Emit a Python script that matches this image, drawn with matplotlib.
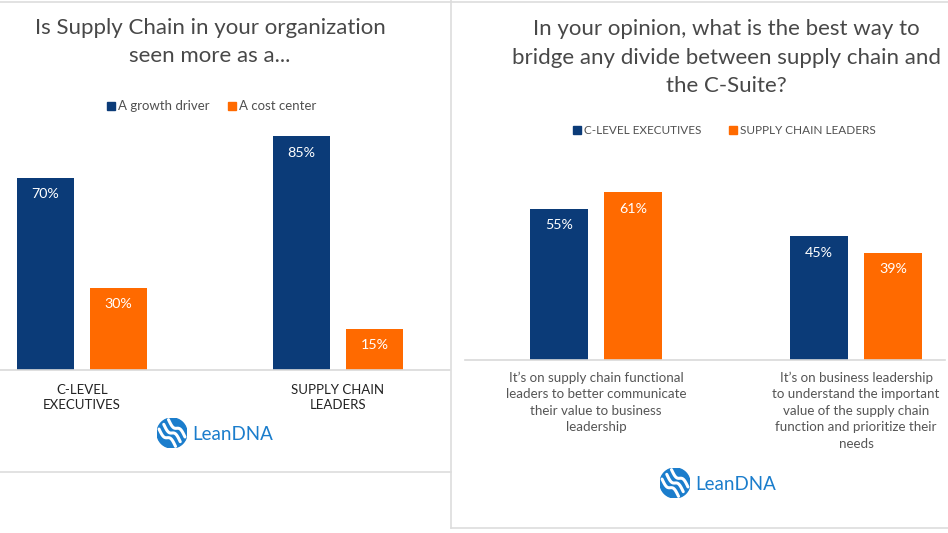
import matplotlib
matplotlib.use("Agg")
from matplotlib import pyplot as plt
from matplotlib.patches import Circle, Rectangle
from matplotlib.lines import Line2D
import numpy as np

# data
left_title = "Is Supply Chain in your organization\nseen more as a..."
left_series = ["A growth driver", "A cost center"]
left_cats = ["C-LEVEL\nEXECUTIVES", "SUPPLY CHAIN\nLEADERS"]
left_growth = [70, 85]
left_cost = [30, 15]

right_title = ("In your opinion, what is the best way to\n"
               "bridge any divide between supply chain and\nthe C-Suite?")
right_series = ["C-LEVEL EXECUTIVES", "SUPPLY CHAIN LEADERS"]
right_cats = ["It\u2019s on supply chain functional\nleaders to better communicate\n"
              "their value to business\nleadership",
              "It\u2019s on business leadership\nto understand the important\n"
              "value of the supply chain\nfunction and prioritize their\nneeds"]
right_exec = [55, 45]
right_scl = [61, 39]

BLUE = "#0b3b78"
ORANGE = "#ff6a00"
TEXT = "#484848"
LOGO = "#1b7dcc"
BORDER = "#dddddd"

W, H = 948, 533
plt.rcParams['font.family'] = ['Lato', 'DejaVu Sans']

fig = plt.figure(figsize=(W / 100, H / 100), dpi=100)


def fx(px):
    return px / W


def fy(py):
    return 1 - py / H


# panel borders
for xs, ys in [((0, W), (1.5, 1.5)), ((451, 451), (0, 528)),
               ((0, 451), (472, 472)), ((451, W), (528, 528))]:
    fig.add_artist(Line2D([fx(x) for x in xs], [fy(y) for y in ys],
                          color=BORDER, lw=1.2))


def bar_panel(x0, x1, base, top, centers_px, spacing, width_px, offset_px,
              s1, s2, cats, lab_size, lab_color, lab_ls, lab_pad):
    ax = fig.add_axes([fx(x0), fy(base), fx(x1 - x0), (base - top) / H])
    pxpct = 2.75
    ax.set_ylim(0, (base - top) / pxpct)
    c0 = centers_px[0]
    ax.set_xlim((x0 - c0) / spacing, (x1 - c0) / spacing)
    idx = np.arange(len(cats))
    w = width_px / spacing
    off = offset_px / spacing
    b1 = ax.bar(idx - off, s1, w, color=BLUE)
    b2 = ax.bar(idx + off, s2, w, color=ORANGE)
    for bars, vals in [(b1, s1), (b2, s2)]:
        for b, v in zip(bars, vals):
            ax.annotate(f"{v}%", (b.get_x() + b.get_width() / 2, v),
                        xytext=(0, -12), textcoords="offset points",
                        ha="center", va="center", color="white",
                        fontsize=10.3)
    for s in ["top", "right", "left"]:
        ax.spines[s].set_visible(False)
    ax.spines["bottom"].set_color("#d9d9d9")
    ax.spines["bottom"].set_linewidth(1.2)
    ax.set_yticks([])
    ax.set_xticks(idx)
    ax.set_xticklabels(cats, fontsize=lab_size, color=lab_color,
                       linespacing=lab_ls)
    ax.tick_params(axis="x", length=0, pad=lab_pad)
    ax.patch.set_alpha(0)
    return ax


bar_panel(0, 450, 370, 100, [82, 338], 256, 57, 36.5,
          left_growth, left_cost, left_cats, 9.5, "#222222", 1.35, 10)
bar_panel(465, 945, 360, 150, [596, 856], 260, 58, 37,
          right_exec, right_scl, right_cats, 9.6, "#555555", 1.45, 8)

# titles
fig.text(fx(210), fy(42), left_title, ha="center", va="center", fontsize=16,
         color=TEXT, linespacing=1.55)
fig.text(fx(726), fy(57.5), right_title, ha="center", va="center",
         fontsize=16, color=TEXT, linespacing=1.55)


def legend_row(cy, xs, labels, size):
    for x, lab, col in zip(xs, labels, [BLUE, ORANGE]):
        fig.add_artist(Rectangle((fx(x), fy(cy + 4)), fx(8), 8 / H,
                                 color=col))
        fig.text(fx(x + 11), fy(cy), lab, ha="left", va="center",
                 fontsize=size, color="#505050")


legend_row(106, [107, 228], left_series, 9.5)
legend_row(130, [573, 729], right_series, 8.5)


def logo(cx, cy):
    r = 15
    lax = fig.add_axes([fx(cx - r), fy(cy + r), fx(2 * r), 2 * r / H])
    lax.set_xlim(-1, 1)
    lax.set_ylim(-1, 1)
    lax.axis("off")
    lax.add_patch(Circle((0, 0), 1, color=LOGO))
    t = np.linspace(-0.55, 0.55, 30)
    for k in [-0.45, 0, 0.45]:
        xs = t + k * 0.7
        ys = -t + k * 0.7 + 0.18 * np.sin(t * 6)
        lax.plot(xs, ys, color="white", lw=2.2, solid_capstyle="round")
    fig.text(fx(cx + 20), fy(cy + 1), "LeanDNA", ha="left", va="center",
             fontsize=13.5, color=LOGO)


logo(172, 433)
logo(675, 483)

fig.savefig("out.png", dpi=100, facecolor="white")
